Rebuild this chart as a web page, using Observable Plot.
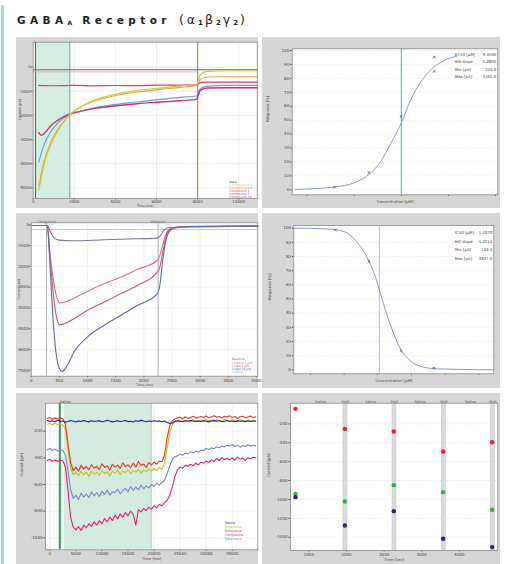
<!DOCTYPE html>
<html><head><meta charset="utf-8">
<script src="https://cdn.jsdelivr.net/npm/d3@7"></script>
<script src="https://cdn.jsdelivr.net/npm/@observablehq/plot@0.6"></script>
<style>
body{margin:0;background:#fff;width:506px;height:564px;position:relative;overflow:hidden;font-family:"DejaVu Sans",sans-serif}
#border{position:absolute;left:1px;top:5px;width:3px;height:559px;background:#a9d9d9}
#title{position:absolute;left:17px;top:12px;font-weight:bold;font-size:10.5px;letter-spacing:4.4px;color:#1e1e1e;white-space:nowrap;font-family:"DejaVu Sans",sans-serif}
#title sub{font-size:6px;letter-spacing:2px;vertical-align:-1px}
#title .gr{font-weight:normal;letter-spacing:3px;font-size:12.5px}
#title .gr sub{font-weight:bold;font-size:7px;letter-spacing:2px}
.panel{position:absolute;background:#d6d6d6;overflow:visible}
.panel svg{display:block}
</style></head>
<body>
<div id="border"></div>
<div id="title">GABA<sub>A</sub> Receptor <span class="gr">(α<sub>1</sub>β<sub>2</sub>γ<sub>2</sub>)</span></div>
<script>
// ---------------- Panel 1: current traces (ms, pA) ----------------
const p1XTicks = [0, 2000, 4000, 6000, 8000, 10000];
const p1YTicks = [0, -1000, -2000, -3000, -4000, -5000];
const p1Yellow = [[275,-5095],[518,-4063],[842,-3236],[1166,-2685],[1490,-2272],[1782,-1969],[2300,-1652],[2948,-1377],[3920,-1143],[5054,-964],[6188,-868],[7160,-785],[7938,-730],[8132,-317],[8456,-179],[9428,-151],[10900,-151]];
const p1Orange = [[275,-4888],[518,-3924],[842,-3126],[1166,-2616],[1490,-2245],[1782,-1969],[2300,-1666],[2948,-1418],[3920,-1198],[5054,-1033],[6188,-923],[7160,-840],[7938,-757],[8132,-509],[8456,-413],[9428,-399],[10900,-399]];
const p1Blue = [[275,-3924],[518,-3236],[842,-2685],[1166,-2341],[1490,-2107],[1782,-1969],[2300,-1831],[2948,-1694],[3920,-1556],[5054,-1446],[6188,-1336],[7160,-1253],[7938,-1198],[8132,-895],[8456,-785],[9428,-757],[10900,-757]];
const p1Magenta = [[275,-2713],[389,-2823],[600,-2685],[842,-2437],[1166,-2217],[1490,-2052],[1782,-1942],[2300,-1831],[2948,-1721],[3920,-1611],[5054,-1515],[6188,-1446],[7160,-1391],[7938,-1336],[8132,-964],[8456,-868],[9428,-854],[10900,-854]];
const p1Red = [[275,-757],[1000,-772],[2000,-760],[3000,-775],[4000,-762],[5000,-770],[6000,-750],[7000,-745],[7938,-735],[8132,-640],[8456,-625],[10900,-625]];
const p1Grey = [[0,-110],[10900,-110]];
const p1Pink = [[0,-200],[7938,-200]];
const p1Stim = [[162, 1782]];
const p1Events = [{t:113,c:"#2f7a40"},{t:1782,c:"#5ab090"},{t:8003,c:"#c08040"}];
const p1LegendNames = ["Data","Compound 0.1","Compound 0.3","Compound 1","Compound 3","Compound 10"];
const p1LegendColors = ["#333","#c9cf3a","#f0a040","#e23c6a","#c8327a","#7a5cc0"];

// ---------------- Panel 2: concentration-response (activation) ----------------
const p2XTicks = [0.1, 1, 10, 100, 1000];
const p2XLabels = ["1E-1","1E0","1E1","1E2","1E3"];
const p2YTicks = [0,10,20,30,40,50,60,70,80,90,100];
const p2Points = [[0.38,1.9],[2.04,12.4],[9.9,52.6],[50,95.2],[50,85.0]];
const p2Fit = [[0.0565,0.3],[0.139,0.8],[0.38,2],[1.0,5],[2.04,11],[3.6,20],[5.9,33],[10,48],[15.5,64],[25.5,77],[41.5,86],[79,92.5],[152,96]];
const p2EC50 = [10];
const p2FitLabels = ["EC50 [µM]","Hill slope","Min [pA]","Max [pA]"];
const p2FitValues = ["9.3590","1.2800","224.0","5401.0"];

// ---------------- Panel 3: inhibition traces ----------------
const p3XTicks = [0,500,1000,1500,2000,2500,3000,3500,4000];
const p3YTicks = [0,-1000,-2000,-3000,-4000,-5000,-6000,-7000];
const p3Blue = [[0,-32],[284,-32],[331,-1798],[373,-3884],[432,-5971],[473,-6693],[509,-6966],[550,-7063],[639,-6774],[757,-6132],[994,-5409],[1290,-4847],[1586,-4366],[1882,-3884],[2237,-3323],[2284,-2921],[2325,-1958],[2385,-835],[2444,-353],[2533,-161],[2769,-80],[4024,-64]];
const p3Red = [[0,-32],[284,-32],[331,-1477],[373,-2761],[432,-4205],[473,-4687],[509,-4815],[580,-4767],[757,-4526],[994,-4125],[1290,-3724],[1586,-3323],[1882,-2921],[2237,-2279],[2284,-2039],[2325,-1477],[2385,-674],[2444,-273],[2533,-128],[2769,-80],[4024,-64]];
const p3Pink = [[0,-32],[284,-32],[331,-1316],[373,-2279],[432,-3242],[473,-3644],[509,-3756],[580,-3724],[757,-3531],[994,-3210],[1290,-2841],[1586,-2520],[1882,-2151],[2237,-1717],[2284,-1477],[2325,-1075],[2385,-514],[2444,-225],[2533,-128],[2769,-80],[4024,-64]];
const p3Grey = [[0,-32],[284,-32],[343,-353],[402,-610],[491,-738],[757,-770],[1290,-722],[1882,-674],[2237,-642],[2296,-514],[2355,-273],[2444,-128],[4024,-64]];
const p3Cyan = [[0,-225],[4024,-225]];
const p3Events = [{t:272,name:"Compound"},{t:2254,name:"Washout"}];
const p3LegendNames = ["Baseline","Cmpd 0.1 µM","Cmpd 1 µM","Cmpd 10 µM","Control"];
const p3LegendColors = ["#7a7a9a","#e07080","#d85070","#5a6ab0","#8ac8e0"];

// ---------------- Panel 4: concentration-response (inhibition) ----------------
const p4XTicks = [0.01,0.1,1,10,100,1000];
const p4XLabels = ["1E-2","1E-1","1E0","1E1","1E2","1E3"];
const p4YTicks = [0,10,20,30,40,50,60,70,80,90,100];
const p4Points = [[0.0553,98.8],[0.541,76.5],[4.93,13.6],[46,1.2]];
const p4Fit = [[0.0032,100],[0.0313,99.5],[0.0977,97.6],[0.243,90.1],[0.482,79.5],[0.853,65.4],[1.2,53.6],[1.89,38.4],[2.99,25.4],[4.71,14.8],[8.34,7.3],[18.5,2.6],[57.8,0.7],[2790,0]];
const p4IC50 = [1.12];
const p4FitLabels = ["IC50 [µM]","Hill slope","Min [pA]","Max [pA]"];
const p4FitValues = ["1.1070","-1.2214","103.4","3827.0"];

// ---------------- Panel 5: noisy traces (ms, pA), sampled every 500 ms from -500 ----------------
const p5XTicks = [0,5000,10000,15000,20000,25000,30000,35000];
const p5YTicks = [-200,-400,-600,-800,-1000];
const p5Time = d3.range(-500, 40001, 500);
const p5Saline = [
 -120,-128,-122,-130,-118,-126,-124,-132,-127,-120,
 -125,-131,-123,-128,-119,-126,-130,-122,-127,-124,
 -121,-129,-125,-118,-123,-130,-126,-121,-127,-124,
 -120,-128,-125,-131,-122,-126,-119,-124,-129,-123,
 -127,-121,-126,-124,-129,-123,-135,-142,-138,-128,
 -121,-125,-129,-122,-126,-120,-124,-128,-123,-127,
 -121,-125,-130,-124,-119,-126,-122,-128,-125,-120,
 -127,-123,-129,-121,-126,-124,-128,-122,-127,-123,-125];
const p5RefYellow = [
 -148,-142,-152,-140,-150,-145,-155,-190,-340,-480,
 -525,-510,-535,-500,-528,-505,-540,-498,-522,-508,
 -530,-495,-518,-504,-536,-500,-515,-492,-525,-498,
 -512,-488,-520,-495,-508,-485,-515,-490,-505,-482,
 -500,-478,-495,-470,-488,-440,-330,-210,-150,-130,
 -122,-130,-115,-126,-118,-128,-112,-124,-120,-116,
 -125,-110,-122,-118,-128,-114,-120,-126,-112,-119,
 -124,-115,-121,-127,-113,-120,-125,-117,-122,-118,-120];
const p5RefRed = [
 -105,-98,-110,-102,-108,-100,-106,-150,-300,-440,
 -495,-470,-500,-455,-485,-465,-490,-450,-478,-462,
 -488,-445,-472,-460,-492,-448,-470,-455,-480,-438,
 -466,-452,-475,-440,-470,-428,-458,-446,-472,-435,
 -455,-432,-448,-425,-430,-380,-250,-160,-120,-108,
 -100,-95,-108,-92,-104,-98,-88,-102,-95,-90,
 -98,-86,-100,-92,-84,-96,-90,-102,-88,-94,
 -85,-98,-90,-104,-92,-88,-100,-94,-86,-97,-92];
const p5Compound = [
 -420,-412,-425,-415,-428,-418,-422,-470,-650,-850,
 -920,-940,-915,-945,-905,-925,-895,-915,-880,-905,
 -870,-895,-855,-880,-845,-870,-830,-858,-820,-845,
 -810,-835,-800,-825,-905,-790,-805,-780,-795,-770,
 -785,-760,-775,-748,-760,-735,-720,-680,-620,-540,
 -490,-470,-478,-455,-465,-448,-460,-440,-452,-432,
 -440,-425,-435,-415,-428,-405,-420,-398,-412,-405,
 -415,-400,-418,-395,-410,-402,-420,-398,-408,-395,-400];
const p5RefLav = [
 -340,-330,-345,-335,-350,-338,-345,-380,-500,-640,
 -705,-680,-715,-665,-695,-670,-700,-655,-685,-660,
 -690,-650,-675,-640,-680,-655,-662,-635,-670,-645,
 -628,-655,-615,-645,-620,-640,-605,-632,-610,-625,
 -600,-615,-590,-605,-585,-570,-520,-460,-410,-390,
 -385,-372,-380,-365,-370,-355,-362,-350,-358,-342,
 -345,-330,-338,-325,-332,-318,-325,-310,-318,-305,
 -312,-300,-315,-305,-320,-308,-315,-302,-312,-306,-310];
const p5Stim = [[2813, 19437]];
const p5SalineMark = [1918];
const p5LegendNames = ["Saline","Reference","Reference","Compound","Reference"];
const p5LegendColors = ["#23238f","#c8c020","#e83a20","#e0207a","#7a88cc"];

// ---------------- Panel 6: peak currents per application ----------------
const p6XTicks = [1000,2000,3000,4000,5000];
const p6YTicks = [-200,-400,-600,-800,-1000,-1200,-1400];
const p6Times = [646,1956,3257,4566,5867];
const p6Red = [-41,-253,-281,-493,-394];
const p6Green = [-941,-1022,-849,-923,-1110];
const p6Blue = [-976,-1276,-1124,-1417,-1505];
const p6Bands = [1973,3274,4584,5885];
const p6TopLabels = [{t:1310,s:"Saline"},{t:1973,s:"PAM"},{t:2637,s:"Saline"},{t:3274,s:"PAM"},{t:3947,s:"Saline"},{t:4584,s:"PAM"},{t:5292,s:"Saline"},{t:5885,s:"PAM"}];

// ---------------- helpers ----------------
const FONT = "'DejaVu Sans', sans-serif";
function mount(left, top, width, height, opts) {
  const div = document.createElement("div");
  div.className = "panel";
  Object.assign(div.style, {left: left + "px", top: top + "px", width: width + "px", height: height + "px"});
  const svg = Plot.plot({
    width, height,
    style: {background: "transparent", fontSize: "4px", fontFamily: FONT, color: "#444", overflow: "visible"},
    ...opts
  });
  div.appendChild(svg);
  document.body.appendChild(div);
}
const num = d3.format("d");
const minus = v => num(v).replace("−", "-");
const pairs = a => a.map(([x, y]) => ({x, y}));
function legendMarks(names, colors, dx, dyStart, step, size) {
  return names.map((n, i) => Plot.text([n], {frameAnchor: "bottom-right", textAnchor: "start", dx, dy: dyStart + i * step, fill: colors[i], fontSize: size || 3.4}));
}

// ---------------- Panel 1 ----------------
mount(16, 37, 242, 171, {
  marginLeft: 16.7, marginRight: 1.3, marginTop: 4.7, marginBottom: 10,
  x: {domain: [0, 10900], ticks: p1XTicks, tickFormat: minus, tickSize: 1.5, tickPadding: 0.5, label: null},
  y: {domain: [-5440, 1030], ticks: p1YTicks, tickFormat: minus, tickSize: 1.5, tickPadding: 1, label: null},
  marks: [
    Plot.frame({fill: "white"}),
    Plot.rect(p1Stim, {x1: d => d[0], x2: d => d[1], fill: "#d5eee1"}),
    Plot.ruleX(p1XTicks, {stroke: "#e2e2e2", strokeWidth: 0.6}),
    Plot.ruleY(p1YTicks, {stroke: "#e2e2e2", strokeWidth: 0.6}),
    Plot.ruleX(p1Events, {x: "t", stroke: "c", strokeWidth: 1.1}),
    Plot.line(pairs(p1Pink), {x: "x", y: "y", stroke: "#e8a0b8", strokeWidth: 0.9}),
    Plot.line(pairs(p1Grey), {x: "x", y: "y", stroke: "#6a6a6a", strokeWidth: 1.1}),
    Plot.line(pairs(p1Red), {x: "x", y: "y", stroke: "#e23c6a", strokeWidth: 1.2, curve: "monotone-x"}),
    Plot.line(pairs(p1Blue), {x: "x", y: "y", stroke: "#6f9de0", strokeWidth: 1.2, curve: "monotone-x"}),
    Plot.line(pairs(p1Magenta), {x: "x", y: "y", stroke: "#c8327a", strokeWidth: 1.4, curve: "monotone-x"}),
    Plot.line(pairs(p1Orange), {x: "x", y: "y", stroke: "#f0a040", strokeWidth: 1.1, curve: "monotone-x"}),
    Plot.line(pairs(p1Yellow), {x: "x", y: "y", stroke: "#c9cf3a", strokeWidth: 1.2, curve: "monotone-x"}),
    ...legendMarks(p1LegendNames, p1LegendColors, -28, -16, 3, 3.2),
    Plot.text(["Time (ms)"], {frameAnchor: "bottom", dy: 8, fontSize: 3.3}),
    Plot.text(["Current (pA)"], {frameAnchor: "left", rotate: -90, dx: -13.5, fontSize: 3.5}),
    Plot.frame({stroke: "#8a8a8a", strokeWidth: 0.8})
  ]
});

// ---------------- Panel 2 ----------------
mount(262, 37, 238, 171, {
  marginLeft: 29.7, marginRight: 2.7, marginTop: 11.3, marginBottom: 13.7,
  x: {type: "log", domain: [0.048, 1120], ticks: p2XTicks, tickFormat: (d, i) => p2XLabels[i], tickSize: 1.5, tickPadding: 1, label: null},
  y: {domain: [-3.6, 101.2], ticks: p2YTicks, tickSize: 1.5, tickPadding: 1.5, label: null},
  marks: [
    Plot.frame({fill: "white"}),
    Plot.ruleY(p2YTicks, {stroke: "#e6e6e6", strokeWidth: 0.6, strokeDasharray: "1.5,1.5"}),
    Plot.ruleX(p2EC50, {stroke: "#4cb8a4", strokeWidth: 1}),
    Plot.line(pairs(p2Fit), {x: "x", y: "y", stroke: "#8a9cc8", strokeWidth: 1, curve: "monotone-x"}),
    Plot.dot(pairs(p2Points), {x: "x", y: "y", symbol: "times", r: 1.3, stroke: "#555", strokeWidth: 0.8}),
    Plot.text([p2FitLabels.join("\n")], {frameAnchor: "top-right", textAnchor: "start", lineAnchor: "top", dx: -43, dy: 2.2, lineHeight: 1.85, fontSize: 3.9, fill: "#444"}),
    Plot.text([p2FitValues.join("\n")], {frameAnchor: "top-right", textAnchor: "end", lineAnchor: "top", dx: -1.5, dy: 2.2, lineHeight: 1.85, fontSize: 3.9, fill: "#444"}),
    Plot.text(["Concentration [µM]"], {frameAnchor: "bottom", dy: 8, fontSize: 3.8}),
    Plot.text(["Response [%]"], {frameAnchor: "left", rotate: -90, dx: -24, fontSize: 3.8}),
    Plot.frame({stroke: "#8a8a8a", strokeWidth: 0.8})
  ]
});

// ---------------- Panel 3 ----------------
mount(16, 213, 242, 175, {
  marginLeft: 14.7, marginRight: 0.7, marginTop: 9.3, marginBottom: 12.3,
  x: {domain: [0, 4024], ticks: p3XTicks, tickFormat: minus, tickSize: 1.5, tickPadding: 1, label: null},
  y: {domain: [-7287, 96], ticks: p3YTicks, tickFormat: minus, tickSize: 1.5, tickPadding: 1, label: null},
  marks: [
    Plot.frame({fill: "white"}),
    Plot.ruleX(p3XTicks, {stroke: "#ececec", strokeWidth: 0.6}),
    Plot.ruleY(p3YTicks, {stroke: "#ececec", strokeWidth: 0.6}),
    Plot.ruleX(p3Events, {x: "t", stroke: "#9a9aa8", strokeWidth: 0.8}),
    Plot.text(p3Events, {x: "t", text: "name", frameAnchor: "top", dy: -2.5, fontSize: 3.4, fill: "#555"}),
    Plot.line(pairs(p3Cyan), {x: "x", y: "y", stroke: "#9ad0e8", strokeWidth: 0.9}),
    Plot.line(pairs(p3Grey), {x: "x", y: "y", stroke: "#7a7a9a", strokeWidth: 1.1, curve: "monotone-x"}),
    Plot.line(pairs(p3Pink), {x: "x", y: "y", stroke: "#e07080", strokeWidth: 1.1, curve: "monotone-x"}),
    Plot.line(pairs(p3Red), {x: "x", y: "y", stroke: "#d85070", strokeWidth: 1.1, curve: "monotone-x"}),
    Plot.line(pairs(p3Blue), {x: "x", y: "y", stroke: "#5a6ab0", strokeWidth: 1.1, curve: "monotone-x"}),
    ...legendMarks(p3LegendNames, p3LegendColors, -26, -16, 3.3, 3),
    Plot.text(["Time (ms)"], {frameAnchor: "bottom", dy: 9.5, fontSize: 3.4}),
    Plot.text(["Current (pA)"], {frameAnchor: "left", rotate: -90, dx: -12.5, fontSize: 3.4}),
    Plot.frame({stroke: "#8a8a8a", strokeWidth: 0.8})
  ]
});

// ---------------- Panel 4 ----------------
mount(262, 213, 238, 175, {
  marginLeft: 31.3, marginRight: 6.7, marginTop: 12, marginBottom: 14.7,
  x: {type: "log", domain: [0.0032, 2790], ticks: p4XTicks, tickFormat: (d, i) => p4XLabels[i], tickSize: 1.5, tickPadding: 1, label: null},
  y: {domain: [-2.8, 101.9], ticks: p4YTicks, tickSize: 1.5, tickPadding: 1.5, label: null},
  marks: [
    Plot.frame({fill: "white"}),
    Plot.ruleY(p4YTicks, {stroke: "#e6e6e6", strokeWidth: 0.6, strokeDasharray: "1.5,1.5"}),
    Plot.ruleX(p4IC50, {stroke: "#bdbdbd", strokeWidth: 0.9}),
    Plot.line(pairs(p4Fit), {x: "x", y: "y", stroke: "#8a9cc8", strokeWidth: 1, curve: "monotone-x"}),
    Plot.dot(pairs(p4Points), {x: "x", y: "y", symbol: "times", r: 1.3, stroke: "#555", strokeWidth: 0.8}),
    Plot.text([p4FitLabels.join("\n")], {frameAnchor: "top-right", textAnchor: "start", lineAnchor: "top", dx: -39, dy: 2.5, lineHeight: 2.2, fontSize: 3.9, fill: "#444"}),
    Plot.text([p4FitValues.join("\n")], {frameAnchor: "top-right", textAnchor: "end", lineAnchor: "top", dx: -1.5, dy: 2.5, lineHeight: 2.2, fontSize: 3.9, fill: "#444"}),
    Plot.text(["Concentration [µM]"], {frameAnchor: "bottom", dy: 8.5, fontSize: 3.8}),
    Plot.text(["Response [%]"], {frameAnchor: "left", rotate: -90, dx: -24, fontSize: 3.8}),
    Plot.frame({stroke: "#8a8a8a", strokeWidth: 0.8})
  ]
});

// ---------------- Panel 5 ----------------
const p5Series = [
  {v: p5RefLav, c: "#7a88cc"},
  {v: p5Compound, c: "#e0207a"},
  {v: p5RefYellow, c: "#c8c020"},
  {v: p5RefRed, c: "#e83a20"},
  {v: p5Saline, c: "#23238f"}
];
mount(16, 393, 242, 171, {
  marginLeft: 29, marginRight: 0.7, marginTop: 9.7, marginBottom: 14.7,
  x: {domain: [-831, 39900], ticks: p5XTicks, tickFormat: minus, tickSize: 1.5, tickPadding: 1, label: null},
  y: {domain: [-1090, 10], ticks: p5YTicks, tickFormat: minus, tickSize: 1.5, tickPadding: 1.5, label: null},
  marks: [
    Plot.frame({fill: "white"}),
    Plot.rect(p5Stim, {x1: d => d[0], x2: d => d[1], fill: "#d4ece0"}),
    Plot.ruleX(p5XTicks, {stroke: "#e4e4e4", strokeWidth: 0.5}),
    Plot.ruleY(p5YTicks, {stroke: "#e4e4e4", strokeWidth: 0.5}),
    Plot.ruleX(p5Stim, {x: d => d[1], stroke: "#7cc49c", strokeWidth: 0.8}),
    Plot.ruleX(p5SalineMark, {stroke: "#2aa050", strokeWidth: 2}),
    Plot.text(["Saline"], {x: 1918, frameAnchor: "top", textAnchor: "start", dy: -3, fontSize: 3.5, fill: "#444"}),
    ...p5Series.map(s => Plot.line(s.v.map((v, i) => ({t: p5Time[i], v})), {x: "t", y: "v", stroke: s.c, strokeWidth: 1.1})),
    ...legendMarks(p5LegendNames, p5LegendColors, -33, -26, 4),
    Plot.text(["Time [ms]"], {frameAnchor: "bottom", dy: 10.5, fontSize: 3.8}),
    Plot.text(["Current [pA]"], {frameAnchor: "left", rotate: -90, dx: -24, fontSize: 3.8}),
    Plot.frame({stroke: "#8a8a8a", strokeWidth: 0.8})
  ]
});

// ---------------- Panel 6 ----------------
const p6Series = [
  {v: p6Red, c: "#e8252a"},
  {v: p6Green, c: "#2bb24c"},
  {v: p6Blue, c: "#25258f"}
];
mount(262, 393, 238, 171, {
  marginLeft: 28, marginRight: 2.7, marginTop: 9.7, marginBottom: 14,
  x: {domain: [513, 6018], ticks: p6XTicks, tickFormat: minus, tickSize: 1.5, tickPadding: 1, label: null},
  y: {domain: [-1541, 19], ticks: p6YTicks, tickFormat: minus, tickSize: 1.5, tickPadding: 1.5, label: null},
  marks: [
    Plot.frame({fill: "white"}),
    Plot.ruleY(p6YTicks, {stroke: "#dedede", strokeWidth: 0.6, strokeDasharray: "1.5,1.5"}),
    Plot.rect(p6Bands, {x1: d => d - 53, x2: d => d + 53, fill: "#dadada", stroke: "#c4c4c4", strokeWidth: 0.5}),
    Plot.text(p6TopLabels, {x: "t", text: "s", frameAnchor: "top", dy: -3, fontSize: 3.5, fill: "#555"}),
    ...p6Series.map(s => Plot.dot(s.v.map((v, i) => ({t: p6Times[i], v})), {x: "t", y: "v", fill: s.c, r: 2.2})),
    Plot.text(["Time [sec]"], {frameAnchor: "bottom", dy: 10.5, fontSize: 3.8}),
    Plot.text(["Current [pA]"], {frameAnchor: "left", rotate: -90, dx: -22, fontSize: 3.8}),
    Plot.frame({stroke: "#8a8a8a", strokeWidth: 0.8})
  ]
});
</script>
</body></html>
